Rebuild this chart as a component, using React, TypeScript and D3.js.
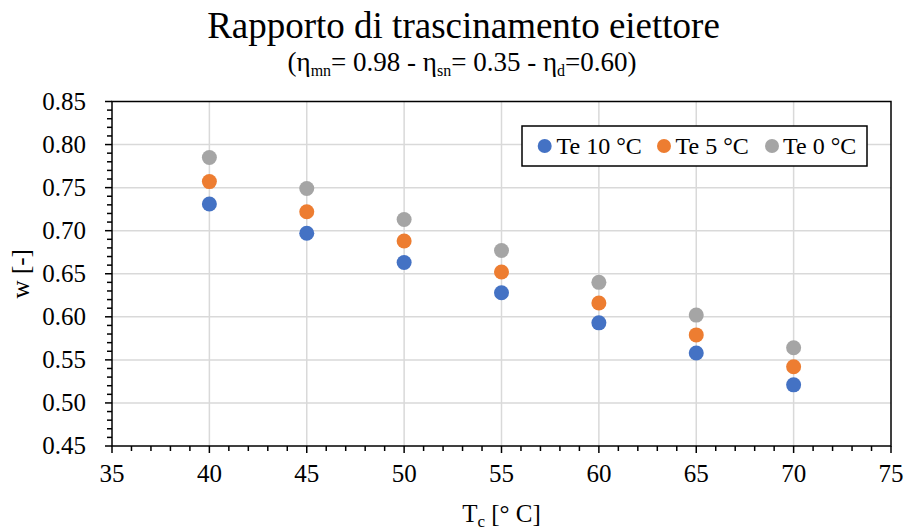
import React from "react";
import * as d3 from "d3";

// Condenser temperature (°C)
const tc = [40, 45, 50, 55, 60, 65, 70];
// Entrainment ratio w for each evaporator temperature
const wTe10 = [0.731, 0.697, 0.663, 0.628, 0.593, 0.558, 0.521];
const wTe5 = [0.757, 0.722, 0.688, 0.652, 0.616, 0.579, 0.542];
const wTe0 = [0.785, 0.749, 0.713, 0.677, 0.64, 0.602, 0.564];

const seriesNames = ["Te 10 °C", "Te 5 °C", "Te 0 °C"];
const seriesColors = ["#4472C4", "#ED7D31", "#A5A5A5"];
const xTicks = [35, 40, 45, 50, 55, 60, 65, 70, 75];
const yTicks = [0.45, 0.5, 0.55, 0.6, 0.65, 0.7, 0.75, 0.8, 0.85];

const W = 906;
const H = 530;
const left = 112;
const right = 891;
const top = 101.5;
const bottom = 446;
const FONT = "'Liberation Serif', serif";

export default function App() {
  const x = d3.scaleLinear().domain([35, 75]).range([left, right]);
  const y = d3.scaleLinear().domain([0.45, 0.85]).range([bottom, top]);

  const series = [wTe10, wTe5, wTe0];
  const xMinor = d3.range(35, 75.001, 1).filter((v) => v % 5 !== 0);
  const yMinor = d3.range(45, 85.001, 1).filter((v) => v % 5 !== 0).map((v) => v / 100);

  const legendX = 522;
  const legendY = 126;
  const legendItems = [
    { mx: 544.7, tx: 556.5 },
    { mx: 664, tx: 675.5 },
    { mx: 772, tx: 783 },
  ];

  const txt = { style: { fontFamily: FONT }, fill: "#000" } as const;

  return (
    <svg
      width={W}
      height={H}
      style={{ position: "absolute", left: 0, top: 0, background: "#fff", fontFamily: FONT }}
    >
      <rect x={0} y={0} width={W} height={H} fill="#fff" />

      {/* title */}
      <text {...txt} x={463.5} y={38} textAnchor="middle" fontSize={37}>
        Rapporto di trascinamento eiettore
      </text>
      <text {...txt} x={462} y={71} textAnchor="middle" fontSize={27}>
        <tspan>(η</tspan>
        <tspan fontSize={16} dy={5}>mn</tspan>
        <tspan dy={-5}>= 0.98 - η</tspan>
        <tspan fontSize={16} dy={5}>sn</tspan>
        <tspan dy={-5}>= 0.35 - η</tspan>
        <tspan fontSize={16} dy={5}>d</tspan>
        <tspan dy={-5}>=0.60)</tspan>
      </text>

      {/* gridlines */}
      <g stroke="#d9d9d9" strokeWidth={1.5}>
        {xTicks.slice(1, -1).map((t) => (
          <line key={"gx" + t} x1={x(t)} x2={x(t)} y1={top} y2={bottom} />
        ))}
        {yTicks.slice(1, -1).map((t) => (
          <line key={"gy" + t} x1={left} x2={right} y1={y(t)} y2={y(t)} />
        ))}
      </g>

      {/* plot frame */}
      <rect
        x={left}
        y={top}
        width={right - left}
        height={bottom - top}
        fill="none"
        stroke="#000"
        strokeWidth={1.5}
      />

      {/* ticks */}
      <g stroke="#000" strokeWidth={1.5}>
        {xTicks.map((t) => (
          <line key={"tx" + t} x1={x(t)} x2={x(t)} y1={bottom} y2={bottom + 7} />
        ))}
        {xMinor.map((t) => (
          <line key={"mx" + t} x1={x(t)} x2={x(t)} y1={bottom} y2={bottom + 5} />
        ))}
        {yTicks.map((t) => (
          <line key={"ty" + t} x1={left - 7} x2={left} y1={y(t)} y2={y(t)} />
        ))}
        {yMinor.map((t) => (
          <line key={"my" + t} x1={left - 5} x2={left} y1={y(t)} y2={y(t)} />
        ))}
      </g>

      {/* tick labels */}
      {xTicks.map((t) => (
        <text {...txt} key={"lx" + t} x={x(t)} y={482} textAnchor="middle" fontSize={25}>
          {t}
        </text>
      ))}
      {yTicks.map((t) => (
        <text {...txt} key={"ly" + t} x={86} y={y(t) + 8} textAnchor="end" fontSize={25}>
          {d3.format(".2f")(t)}
        </text>
      ))}

      {/* axis titles */}
      <text {...txt} x={(left + right) / 2} y={522} textAnchor="middle" fontSize={25}>
        <tspan>T</tspan>
        <tspan fontSize={17} dy={5}>c</tspan>
        <tspan dy={-5}> [° C]</tspan>
      </text>
      <text
        {...txt}
        transform={`translate(29, ${(top + bottom) / 2}) rotate(-90)`}
        textAnchor="middle"
        fontSize={25}
      >
        w [-]
      </text>

      {/* data points */}
      {series.map((vals, si) => (
        <g key={"s" + si} fill={seriesColors[si]}>
          {vals.map((v, i) => (
            <circle key={i} cx={x(tc[i])} cy={y(v)} r={7.5} />
          ))}
        </g>
      ))}

      {/* legend */}
      <rect
        x={legendX}
        y={legendY}
        width={345}
        height={40}
        fill="#fff"
        stroke="#000"
        strokeWidth={1.5}
      />
      {legendItems.map((it, i) => (
        <g key={"lg" + i}>
          <circle cx={it.mx} cy={legendY + 20} r={7} fill={seriesColors[i]} />
          <text {...txt} x={it.tx} y={legendY + 28} fontSize={24}>
            {seriesNames[i]}
          </text>
        </g>
      ))}
    </svg>
  );
}
